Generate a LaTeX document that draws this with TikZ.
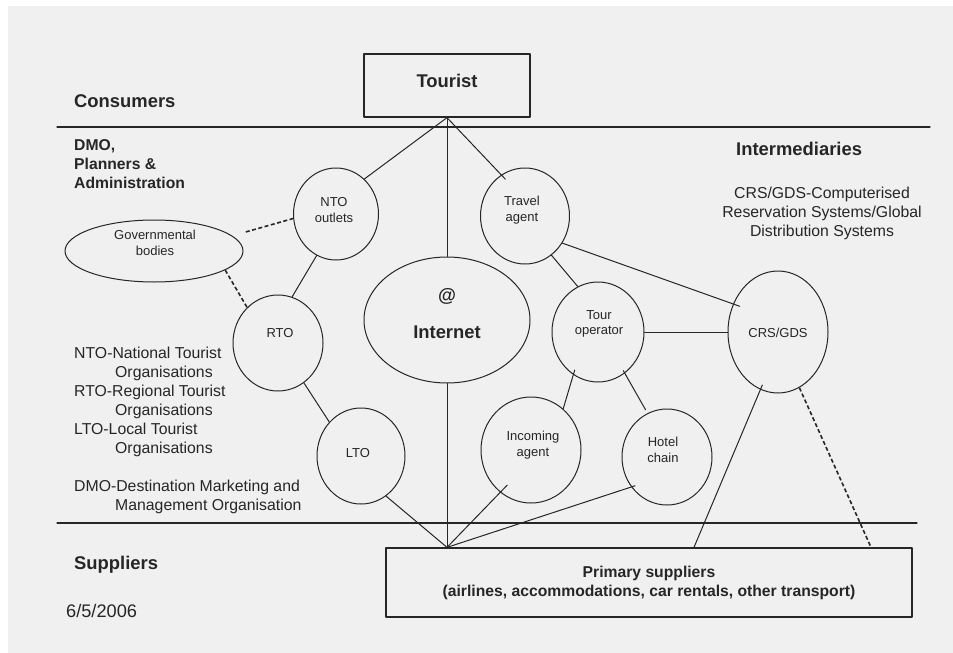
\documentclass[tikz,border=0pt]{standalone}
\usepackage{fontspec}
\setmainfont{Liberation Sans}
\usetikzlibrary{shapes.geometric}

\definecolor{panel}{HTML}{F0F0F0}
\definecolor{ink}{HTML}{262626}

\tikzset{
    orb/.style={ellipse, draw=ink, line width=1pt, inner sep=0pt},
    frame/.style={rectangle, draw=ink, line width=1.3pt, inner sep=0pt},
    link/.style={draw=ink, line width=1pt},
    dashlink/.style={draw=ink, line width=1.6pt, dash pattern=on 4pt off 2.5pt, line cap=butt},
    divider/.style={draw=ink, line width=1.2pt},
    tag/.style={font=\fontsize{13}{15.5}\selectfont, text=ink, align=center, inner sep=0pt},
    heading/.style={font=\fontsize{18.4}{22}\selectfont\bfseries, text=ink, inner sep=0pt},
    subheading/.style={font=\fontsize{15.7}{19}\selectfont\bfseries, text=ink, inner sep=0pt},
    note/.style={font=\fontsize{15.8}{19}\selectfont, text=ink, inner sep=0pt},
}

\begin{document}
\begin{tikzpicture}[x=1pt, y=-1pt, line cap=round, line join=round]

    % Canvas
    \useasboundingbox (0,0) rectangle (953,653);
    \fill[white] (0,0) rectangle (953,653);
    \fill[panel] (8,6) rectangle (953,653);

    % Layer dividers
    \draw[divider] (57,127) -- (930,127);
    \draw[divider] (57,523) -- (917,523);

    % Layer headings (multi-line nodes sit on their last baseline)
    \node[heading, anchor=base west] (consumers) at (74,107) {Consumers};
    \node[subheading, anchor=base west, align=left] (dmo) at (74,188) {DMO,\\Planners \&\\Administration};
    \node[heading, anchor=base west] (intermed) at (736,155) {Intermediaries};
    \node[heading, anchor=base west] (suppliers) at (74,569) {Suppliers};

    % Abbreviations
    \node[note, anchor=base west, align=left] (legend) at (74,510) {NTO-National Tourist\\\hspace*{41pt}Organisations\\RTO-Regional Tourist\\\hspace*{41pt}Organisations\\LTO-Local Tourist\\\hspace*{41pt}Organisations\\[19pt]DMO-Destination Marketing and\\\hspace*{41pt}Management Organisation};
    \node[note, anchor=base, align=center] (crsnote) at (822,236) {CRS/GDS-Computerised\\Reservation Systems/Global\\Distribution Systems};
    \node[note, font=\fontsize{18.2}{22}\selectfont, anchor=base west] (date) at (66,617) {6/5/2006};

    % Boxes
    \node[frame, minimum width=166pt, minimum height=63pt] (tourist) at (447,85.5) {};
    \node[heading, anchor=base] (touristtxt) at (447,87) {Tourist};
    \node[frame, subheading, align=center, minimum width=526pt, minimum height=69pt] (primary) at (649,582.5) {Primary suppliers\\(airlines, accommodations, car rentals, other transport)};

    % Circles
    \node[orb, minimum width=178pt, minimum height=62pt] (gov) at (154,251) {};
    \node[orb, minimum width=85pt, minimum height=92pt] (nto) at (336,214) {};
    \node[orb, minimum width=90pt, minimum height=96pt] (rto) at (278,343) {};
    \node[orb, minimum width=88pt, minimum height=96pt] (lto) at (361,456) {};
    \node[orb, minimum width=166pt, minimum height=126pt] (internet) at (447,320) {};
    \node[orb, minimum width=89pt, minimum height=96pt] (travel) at (525,216) {};
    \node[orb, minimum width=92pt, minimum height=100pt] (tour) at (598,332) {};
    \node[orb, minimum width=100pt, minimum height=106pt] (incoming) at (531,450) {};
    \node[orb, minimum width=90pt, minimum height=96pt] (hotel) at (667,457) {};
    \node[orb, minimum width=100pt, minimum height=122pt] (crs) at (778,332) {};

    % Circle labels
    \node[tag] (govtxt) at (155,243) {Governmental\\bodies};
    \node[tag] (ntotxt) at (334,210) {NTO\\outlets};
    \node[tag] (rtotxt) at (280,333) {RTO};
    \node[tag] (ltotxt) at (358,453) {LTO};
    \node[tag] (traveltxt) at (522,210) {Travel\\agent};
    \node[tag] (tourtxt) at (599,324) {Tour\\operator};
    \node[tag] (incomingtxt) at (533,445) {Incoming\\agent};
    \node[tag] (hoteltxt) at (663,450) {Hotel\\chain};
    \node[tag] (crstxt) at (778,333) {CRS/GDS};
    \node[heading, anchor=base] (atsign) at (447,301) {@};
    \node[heading, anchor=base] (internettxt) at (447,338) {Internet};

    % Tourist to the first tier
    \draw[link] (tourist.south) -- (nto.51);
    \draw[link] (tourist.south) -- (internet.north);
    \draw[link, shorten >=-6pt] (tourist.south) -- (travel.120);

    % Destination side
    \draw[dashlink, shorten <=14pt] (gov.11) -- (nto.186);
    \draw[dashlink] (gov.345) -- (rto.131);
    \draw[link] (nto.245) -- (rto.73);
    \draw[link] (rto.303) -- (lto.133);

    % Trade side
    \draw[link] (travel.304) -- (tour.114);
    \draw[link, shorten >=-7pt] (travel.324) -- (crs.148);
    \draw[link] (tour.east) -- (crs.west);
    \draw[link, shorten <=-5pt] (tour.240) -- (incoming.52);
    \draw[link, shorten <=-3pt, shorten >=4pt] (tour.303) -- (hotel.114);

    % Down to the primary suppliers
    \coordinate (hub) at (internet.south |- primary.north);
    \draw[link] (lto.302) -- (hub);
    \draw[link] (internet.south) -- (hub);
    \draw[link, shorten <=-10pt] (incoming.234) -- (hub);
    \draw[link, shorten <=-4pt] (hotel.220) -- (hub);
    \draw[link, shorten <=-5pt] (crs.253) -- (primary.38);
    \draw[dashlink] (crs.291) -- (primary.9);

\end{tikzpicture}
\end{document}
